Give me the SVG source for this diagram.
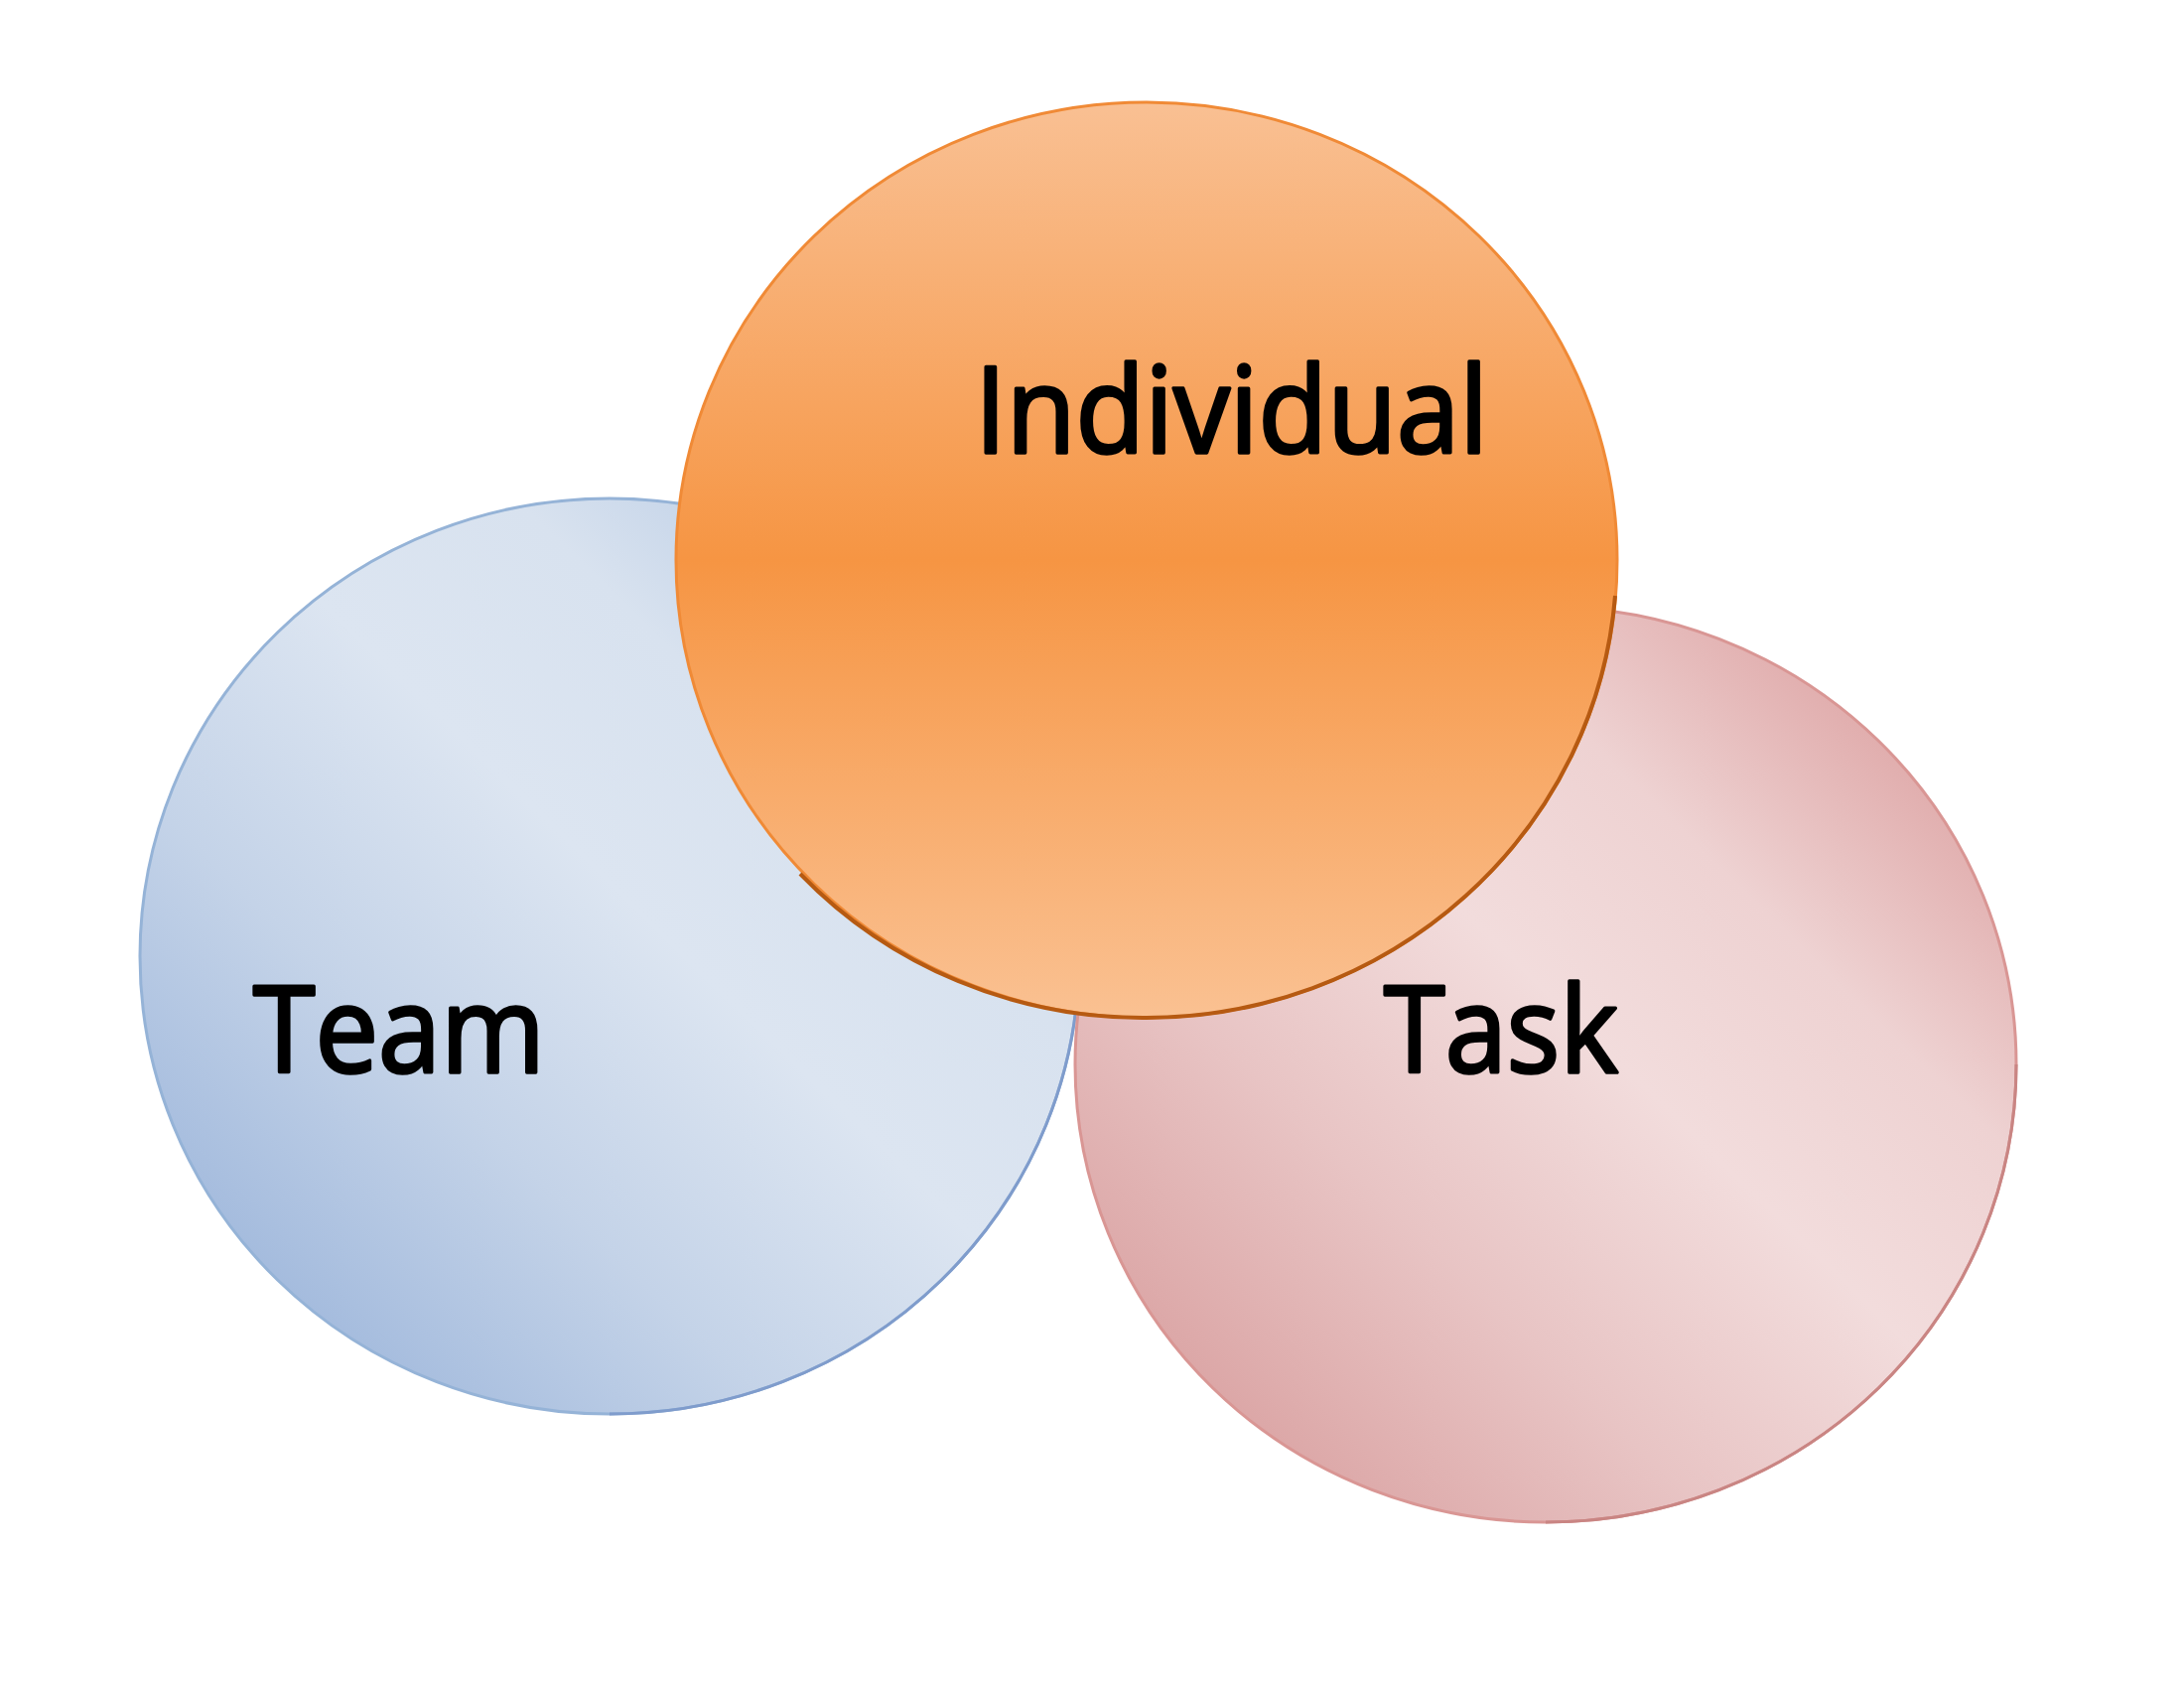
<svg xmlns="http://www.w3.org/2000/svg" width="2200" height="1700" viewBox="0 0 2200 1700">
<style>
.lbl{font-family:"Open Sans","Noto Sans","Liberation Sans",sans-serif;font-size:120px;fill:#000;stroke:#000;stroke-width:3.5px;stroke-linejoin:round}
</style>
<defs>
<linearGradient id="gTeam" x1="0.1" y1="0.9" x2="0.9" y2="0.1">
<stop offset="0" stop-color="#9db6db"/>
<stop offset="0.3" stop-color="#c4d3e8"/>
<stop offset="0.55" stop-color="#dce5f1"/>
<stop offset="0.75" stop-color="#d8e2ef"/>
<stop offset="1" stop-color="#b4c8e3"/>
</linearGradient>
<linearGradient id="gTask" x1="0.1" y1="0.9" x2="0.9" y2="0.1">
<stop offset="0" stop-color="#d9a0a0"/>
<stop offset="0.3" stop-color="#e8c4c4"/>
<stop offset="0.55" stop-color="#f2dcdc"/>
<stop offset="0.75" stop-color="#eed2d2"/>
<stop offset="1" stop-color="#dda3a3"/>
</linearGradient>
<linearGradient id="gInd" x1="0" y1="0" x2="0" y2="1">
<stop offset="0" stop-color="#f9c093"/>
<stop offset="0.5" stop-color="#f69543"/>
<stop offset="1" stop-color="#fac192"/>
</linearGradient>
</defs>
<g id="team">
<ellipse cx="614" cy="963" rx="473" ry="461" fill="url(#gTeam)" stroke="#95b3d7" stroke-width="3"/>
<path d="M1087,963 A473,461 0 0 1 614,1424" fill="none" stroke="#7f9ccc" stroke-width="3"/>
<text class="lbl" x="255" y="1080" textLength="294" lengthAdjust="spacingAndGlyphs">Team</text>
</g>
<g id="task">
<ellipse cx="1557" cy="1072" rx="474" ry="461" fill="url(#gTask)" stroke="#d99694" stroke-width="3"/>
<path d="M2031,1072 A474,461 0 0 1 1557,1533" fill="none" stroke="#c98583" stroke-width="3"/>
<text class="lbl" x="1394" y="1080" textLength="236" lengthAdjust="spacingAndGlyphs">Task</text>
</g>
<g id="individual">
<ellipse cx="1155" cy="564" rx="474" ry="461" fill="url(#gInd)" stroke="#f08a36" stroke-width="3"/>
<path d="M1627,600 A474,461 0 0 1 1155,1025 A474,461 0 0 1 806,880" fill="none" stroke="#b65a12" stroke-width="4"/>
<text class="lbl" x="982" y="456" textLength="517" lengthAdjust="spacingAndGlyphs">Individual</text>
</g>
<g id="connectors"/>
</svg>
